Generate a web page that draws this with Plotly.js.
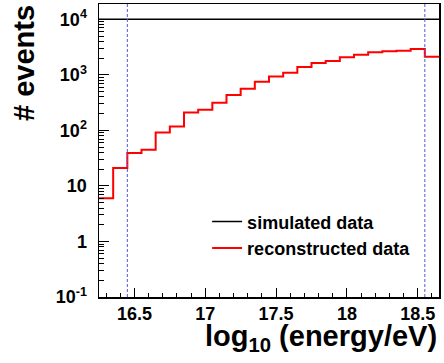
<!DOCTYPE html>
<html>
<head>
<meta charset="utf-8">
<script src="https://cdn.plot.ly/plotly-3.0.1.min.js"></script>
<style>html,body{margin:0;padding:0;background:#fff;}#chart{width:444px;height:363px;}</style>
</head>
<body>
<div id="chart"></div>
<script>
// bin edges in log10(energy/eV), 24 bins of width 0.1
var binEdges = [16.25, 16.35, 16.45, 16.55, 16.65, 16.75, 16.85, 16.95, 17.05, 17.15, 17.25, 17.35,
                17.45, 17.55, 17.65, 17.75, 17.85, 17.95, 18.05, 18.15, 18.25, 18.35, 18.45, 18.55, 18.65];
var simulated = [10000, 10000, 10000, 10000, 10000, 10000, 10000, 10000, 10000, 10000, 10000, 10000,
                 10000, 10000, 10000, 10000, 10000, 10000, 10000, 10000, 10000, 10000, 10000, 10000];
var reconstructed = [6, 21, 39, 45, 92, 118, 211, 235, 314, 432, 561, 750,
                     939, 1090, 1381, 1630, 1772, 2065, 2300, 2542, 2650, 2717, 2915, 2118];
var cutValues = [16.45, 18.55];
var yTickVals = [0.1, 1, 10, 100, 1000, 10000];
var yTickText = ['10<sup>-1</sup>', '1', '10', '10<sup>2</sup>', '10<sup>3</sup>', '10<sup>4</sup>'];
var xTitle = 'log<sub>10</sub> (energy/eV)';
var yTitle = '# events';
var seriesNames = ['simulated data', 'reconstructed data'];

function stepXY(edges, vals) {
  var xs = [], ys = [];
  for (var i = 0; i < vals.length; i++) { xs.push(edges[i]); ys.push(vals[i]); }
  xs.push(edges[vals.length]); ys.push(vals[vals.length - 1]);
  return {x: xs, y: ys};
}
var s1 = stepXY(binEdges, simulated);
var s2 = stepXY(binEdges, reconstructed);

var FONT = 'Liberation Sans, Arial, Helvetica, sans-serif';
var traces = [
  {x: s1.x, y: s1.y, type: 'scatter', mode: 'lines', name: seriesNames[0],
   line: {shape: 'hv', color: '#000000', width: 1.5}},
  {x: s2.x, y: s2.y, type: 'scatter', mode: 'lines', name: seriesNames[1],
   line: {shape: 'hv', color: '#ff0000', width: 2}}
];

var shapes = cutValues.map(function(v) {
  return {type: 'line', xref: 'x', yref: 'paper', x0: v, x1: v, y0: 0, y1: 1,
          line: {color: '#5555dd', width: 1, dash: '3px,2px'}, layer: 'above'};
});

var layout = {
  width: 444, height: 363,
  margin: {l: 99, r: 5, t: 4, b: 66, pad: 0},
  paper_bgcolor: '#ffffff', plot_bgcolor: '#ffffff',
  showlegend: true,
  legend: {x: 0.318, y: 0.212, xanchor: 'left', yanchor: 'middle',
           bgcolor: 'rgba(0,0,0,0)', borderwidth: 0,
           font: {family: FONT, size: 18, weight: 'bold', color: '#000'}},
  xaxis: {
    type: 'linear', range: [16.25, 18.65], autorange: false,
    tick0: 16.5, dtick: 0.5, ticks: 'inside', ticklen: 9, tickwidth: 1, tickcolor: '#000',
    minor: {dtick: 0.1, tick0: 16.5, ticks: 'inside', ticklen: 4.5, tickwidth: 1, tickcolor: '#000', showgrid: false},
    showgrid: false, zeroline: false, showline: true, linecolor: '#000', linewidth: 1.5, mirror: true,
    tickfont: {family: FONT, size: 18, weight: 'bold', color: '#000'}
  },
  yaxis: {
    type: 'log', range: [-1, 4.276], autorange: false,
    tickvals: yTickVals, ticktext: yTickText,
    ticks: 'inside', ticklen: 10, tickwidth: 1, tickcolor: '#000',
    minor: {dtick: 'D1', ticks: 'inside', ticklen: 5, tickwidth: 1, tickcolor: '#000', showgrid: false},
    showgrid: false, zeroline: false, showline: true, linecolor: '#000', linewidth: 1.5, mirror: true,
    ticklabelstandoff: 7,
    tickfont: {family: FONT, size: 18, weight: 'bold', color: '#000'}
  },
  shapes: shapes,
  annotations: [
    {text: xTitle, xref: 'paper', yref: 'paper', x: 1, y: -0.07, xanchor: 'right', yanchor: 'top',
     showarrow: false, font: {family: FONT, size: 29, weight: 'bold', color: '#000'}},
    {text: yTitle, xref: 'paper', yref: 'paper', x: -0.221, y: 1.003, xanchor: 'center', yanchor: 'top',
     textangle: -90, showarrow: false, font: {family: FONT, size: 29, weight: 'bold', color: '#000'}}
  ]
};

Plotly.newPlot('chart', traces, layout, {staticPlot: true, displayModeBar: false});
</script>
</body>
</html>
